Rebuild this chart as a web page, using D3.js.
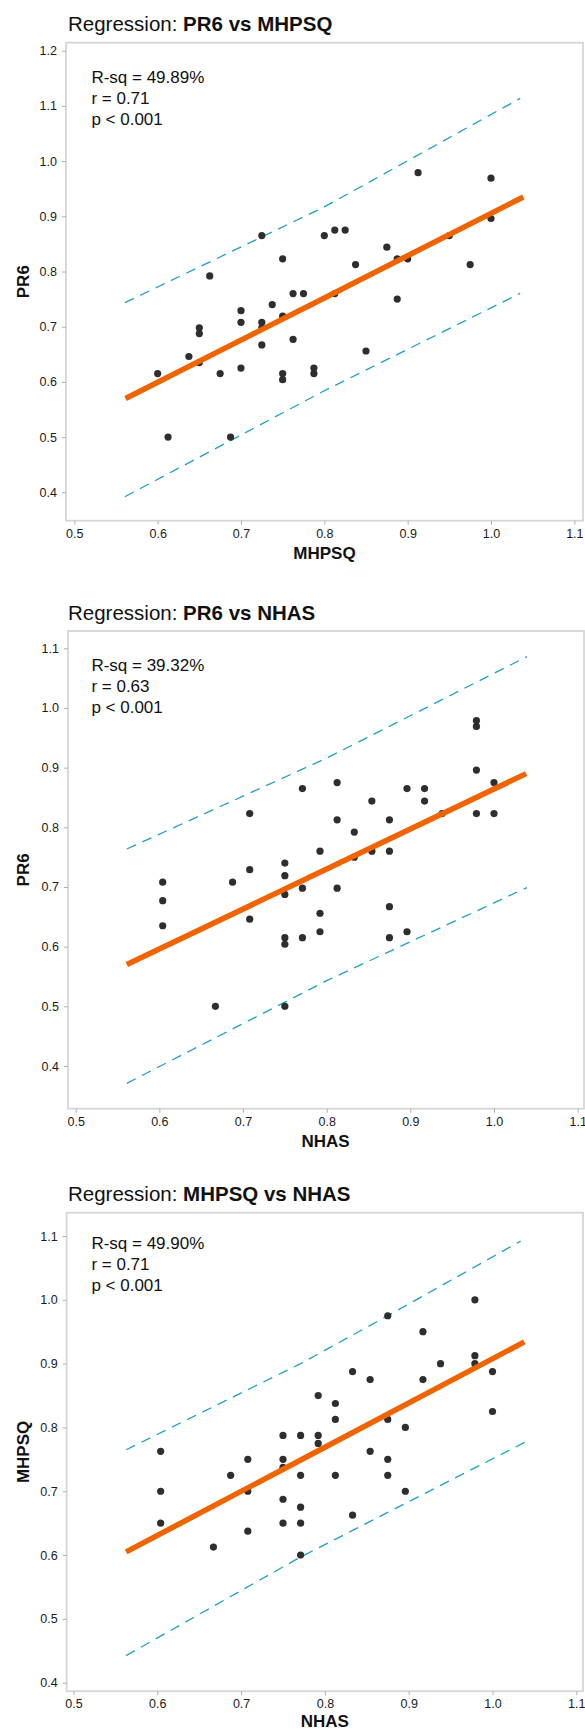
<!DOCTYPE html>
<html>
<head>
<meta charset="utf-8">
<script src="https://cdn.jsdelivr.net/npm/d3@7"></script>
<style>
  html, body { margin: 0; padding: 0; background: #ffffff; }
  svg { display: block; font-family: "Liberation Sans", Arial, sans-serif; }
</style>
</head>
<body>
<svg id="chart" width="585" height="1731"></svg>
<script>
// ---------------- DATA ----------------
const xTicks = [0.5, 0.6, 0.7, 0.8, 0.9, 1.0, 1.1];
const yTicks1 = [0.4, 0.5, 0.6, 0.7, 0.8, 0.9, 1.0, 1.1, 1.2];
const yTicks2 = [0.4, 0.5, 0.6, 0.7, 0.8, 0.9, 1.0, 1.1];
const yTicks3 = [0.4, 0.5, 0.6, 0.7, 0.8, 0.9, 1.0, 1.1];

// Panel 1: PR6 vs MHPSQ
const p1MHPSQ = [0.9125,1.0,1.0,0.95,0.725,0.8,0.8125,0.825,0.875,0.75,0.8875,0.9,0.8375,0.975,0.6625,0.7625,0.775,0.8125,0.8875,0.7375,0.7,0.75,0.7,0.725,0.65,0.725,0.65,0.7625,0.725,0.85,0.6375,0.65,0.7,0.7875,0.6,0.675,0.75,0.7875,0.75,0.6125,0.6875];
const p1PR6   = [0.979,0.969,0.896,0.865,0.865,0.865,0.875,0.875,0.844,0.823,0.823,0.823,0.8125,0.8125,0.792,0.760,0.760,0.760,0.75,0.740,0.729,0.719,0.708,0.708,0.698,0.698,0.6875,0.677,0.667,0.656,0.646,0.635,0.625,0.625,0.615,0.615,0.615,0.615,0.604,0.5,0.5];
const p1FitX = [0.5615, 0.80, 1.0388];
const p1FitY = [0.570, 0.752, 0.935];
const p1UpX = [0.5607, 0.80, 1.035];
const p1UpY = [0.7435, 0.917, 1.1136];
const p1LoX = [0.5607, 0.80, 1.035];
const p1LoY = [0.392, 0.584, 0.7604];
const p1Stats = ["R-sq = 49.89%", "r = 0.71", "p < 0.001"];

// Panel 2: PR6 vs NHAS
const p2NHAS = [0.979,0.979,0.979,0.979,1.0,1.0,0.771,0.8125,0.8125,0.896,0.917,0.917,0.854,0.938,0.708,0.833,0.875,0.792,0.854,0.875,0.833,0.75,0.708,0.75,0.604,0.6875,0.604,0.771,0.8125,0.75,0.604,0.708,0.792,0.875,0.75,0.75,0.771,0.792,0.875,0.896,0.667,0.75];
const p2PR6  = [0.979,0.969,0.896,0.823,0.875,0.823,0.865,0.875,0.8125,0.865,0.865,0.844,0.844,0.823,0.823,0.792,0.8125,0.760,0.760,0.760,0.75,0.740,0.729,0.719,0.708,0.708,0.677,0.698,0.698,0.6875,0.635,0.646,0.656,0.667,0.615,0.604,0.615,0.625,0.615,0.625,0.5,0.5];
const p2FitX = [0.5611, 0.80, 1.0384];
const p2FitY = [0.570, 0.730, 0.890];
const p2UpX = [0.5611, 0.80, 1.0393];
const p2UpY = [0.7637, 0.916, 1.086];
const p2LoX = [0.5611, 0.80, 1.0393];
const p2LoY = [0.371, 0.543, 0.699];
const p2Stats = ["R-sq = 39.32%", "r = 0.63", "p < 0.001"];

// Panel 3: MHPSQ vs NHAS
const p3NHAS  = [0.979,0.979,0.979,1.0,1.0,0.875,0.917,0.938,0.917,0.833,0.854,0.792,0.8125,0.8125,0.875,0.896,0.75,0.771,0.792,0.792,0.604,0.854,0.708,0.75,0.875,0.75,0.6875,0.771,0.8125,0.875,0.604,0.708,0.896,0.75,0.771,0.833,0.604,0.75,0.771,0.708,0.667,0.771];
const p3MHPSQ = [1.0,0.9125,0.9,0.8875,0.825,0.975,0.95,0.9,0.875,0.8875,0.875,0.85,0.8375,0.8125,0.8125,0.8,0.7875,0.7875,0.7875,0.775,0.7625,0.7625,0.75,0.75,0.75,0.7375,0.725,0.725,0.725,0.725,0.7,0.7,0.7,0.6875,0.675,0.6625,0.65,0.65,0.65,0.6375,0.6125,0.6];
const p3FitX = [0.5628, 0.80, 1.038];
const p3FitY = [0.605, 0.769, 0.934];
const p3UpX = [0.5628, 0.771, 0.875, 1.0336];
const p3UpY = [0.765, 0.900, 0.975, 1.092];
const p3LoX = [0.5628, 0.771, 1.039];
const p3LoY = [0.4425, 0.597, 0.777];
const p3Stats = ["R-sq = 49.90%", "r = 0.71", "p < 0.001"];

// ---------------- LAYOUT ----------------
const panels = [
  { titleA: "Regression: ", titleB: "PR6 vs MHPSQ", xLabel: "MHPSQ", yLabel: "PR6",
    xs: p1MHPSQ, ys: p1PR6, fitX: p1FitX, fitY: p1FitY, upX: p1UpX, upY: p1UpY, loX: p1LoX, loY: p1LoY,
    stats: p1Stats, yTicks: yTicks1,
    left: 66, right: 583, top: 42.7, bottom: 520.7,
    xA: [0.5, 74.3], xB: [1.0, 491.0], yA: [1.2, 50.7], yB: [0.4, 492.3],
    statsY: 82.7, xLabelDy: 38 },
  { titleA: "Regression: ", titleB: "PR6 vs NHAS", xLabel: "NHAS", yLabel: "PR6",
    xs: p2NHAS, ys: p2PR6, fitX: p2FitX, fitY: p2FitY, upX: p2UpX, upY: p2UpY, loX: p2LoX, loY: p2LoY,
    stats: p2Stats, yTicks: yTicks2,
    left: 68, right: 584, top: 631, bottom: 1108.7,
    xA: [0.5, 75.7], xB: [1.0, 494.0], yA: [1.1, 648.3], yB: [0.4, 1066.0],
    statsY: 670.7, xLabelDy: 38 },
  { titleA: "Regression: ", titleB: "MHPSQ vs NHAS", xLabel: "NHAS", yLabel: "MHPSQ",
    xs: p3NHAS, ys: p3MHPSQ, fitX: p3FitX, fitY: p3FitY, upX: p3UpX, upY: p3UpY, loX: p3LoX, loY: p3LoY,
    stats: p3Stats, yTicks: yTicks3,
    left: 66.6, right: 583, top: 1212.7, bottom: 1691.2,
    xA: [0.5, 73.5], xB: [1.0, 492.5], yA: [1.1, 1236.0], yB: [0.4, 1682.7],
    statsY: 1249.3, xLabelDy: 35.5 }
];

const svg = d3.select("#chart");
svg.append("rect").attr("width", 585).attr("height", 1731).attr("fill", "#ffffff");

const fmt = d3.format(".1f");

panels.forEach(p => {
  const x = d3.scaleLinear().domain([p.xA[0], p.xB[0]]).range([p.xA[1], p.xB[1]]);
  const y = d3.scaleLinear().domain([p.yB[0], p.yA[0]]).range([p.yB[1], p.yA[1]]);
  const g = svg.append("g");

  // title
  const t = g.append("text")
    .attr("x", 68).attr("y", p.top - 11.5)
    .attr("font-size", "20.5px").attr("fill", "#111");
  t.append("tspan").text(p.titleA);
  t.append("tspan").attr("font-weight", "bold").text(p.titleB);

  // frame
  g.append("rect")
    .attr("x", p.left).attr("y", p.top)
    .attr("width", p.right - p.left).attr("height", p.bottom - p.top)
    .attr("fill", "none").attr("stroke", "#d6d6d6").attr("stroke-width", 1.8);

  // y axis
  const ya = g.append("g").attr("transform", `translate(${p.left},0)`)
    .call(d3.axisLeft(y).tickValues(p.yTicks).tickFormat(fmt).tickSize(4).tickPadding(5));
  ya.select(".domain").remove();
  ya.selectAll(".tick line").attr("stroke", "#b0b0b0");
  ya.selectAll(".tick text").attr("font-size", "12.5px").attr("fill", "#1a1a1a")
    .attr("font-family", "'Liberation Sans', Arial, sans-serif");

  // x axis
  const xa = g.append("g").attr("transform", `translate(0,${p.bottom})`)
    .call(d3.axisBottom(x).tickValues(xTicks).tickFormat(fmt).tickSize(4).tickPadding(4));
  xa.select(".domain").remove();
  xa.selectAll(".tick line").attr("stroke", "#b0b0b0");
  xa.selectAll(".tick text").attr("font-size", "12.5px").attr("fill", "#1a1a1a")
    .attr("font-family", "'Liberation Sans', Arial, sans-serif");

  // axis titles
  g.append("text")
    .attr("x", (p.left + 583) / 2).attr("y", p.bottom + p.xLabelDy)
    .attr("text-anchor", "middle").attr("font-weight", "bold")
    .attr("font-size", "17px").attr("fill", "#111").text(p.xLabel);
  g.append("text")
    .attr("transform", `translate(29,${(p.top + p.bottom) / 2}) rotate(-90)`)
    .attr("text-anchor", "middle").attr("font-weight", "bold")
    .attr("font-size", "17px").attr("fill", "#111").text(p.yLabel);

  // prediction interval
  const line = d3.line().x(d => x(d[0])).y(d => y(d[1]));
  [[p.upX, p.upY], [p.loX, p.loY]].forEach(([lx, ly]) => {
    g.append("path")
      .attr("d", line(lx.map((v, i) => [v, ly[i]])))
      .attr("fill", "none").attr("stroke", "#1f9fc6")
      .attr("stroke-width", 1.3).attr("stroke-dasharray", "10,7");
  });

  // points
  g.append("g").selectAll("circle")
    .data(p.xs.map((v, i) => [v, p.ys[i]]))
    .join("circle")
    .attr("cx", d => x(d[0])).attr("cy", d => y(d[1]))
    .attr("r", 3.6).attr("fill", "#2e2e2e");

  // fitted line
  g.append("path")
    .attr("d", line(p.fitX.map((v, i) => [v, p.fitY[i]])))
    .attr("fill", "none").attr("stroke", "#f06400")
    .attr("stroke-width", 5.5);

  // stats
  const st = g.append("text").attr("x", 91.4).attr("y", p.statsY)
    .attr("font-size", "17px").attr("fill", "#111");
  p.stats.forEach((s, i) => {
    st.append("tspan").attr("x", 91.4).attr("dy", i === 0 ? 0 : 21).text(s);
  });
});
</script>
</body>
</html>
